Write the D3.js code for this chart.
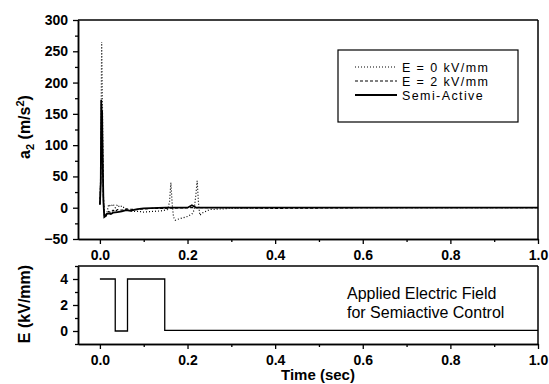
<!DOCTYPE html>
<html>
<head>
<meta charset="utf-8">
<script src="https://cdn.jsdelivr.net/npm/d3@7"></script>
<style>
  html, body { margin: 0; padding: 0; background: #fff; }
  svg { display: block; }
  text { font-family: "Liberation Sans", Arial, Helvetica, sans-serif; fill: #000; }
</style>
</head>
<body>
<svg id="chart" width="549" height="384"></svg>
<script>
// ---------- data ----------
const timeTicks = [0.0, 0.2, 0.4, 0.6, 0.8, 1.0];
const accTicks = [-50, 0, 50, 100, 150, 200, 250, 300];
const fieldTicks = [0, 2, 4];

const seriesNames = ["E = 0 kV/mm", "E = 2 kV/mm", "Semi-Active"];

// E = 0 kV/mm (dotted)
const tE0 = [0, 0.002, 0.004, 0.006, 0.008, 0.010, 0.013, 0.016, 0.02, 0.025, 0.03, 0.035, 0.04, 0.045, 0.05, 0.06, 0.07, 0.08, 0.09, 0.10, 0.12, 0.14, 0.155, 0.159, 0.162, 0.165, 0.168, 0.172, 0.18, 0.19, 0.20, 0.21, 0.215, 0.219, 0.222, 0.225, 0.228, 0.235, 0.25, 0.3, 0.4, 0.6, 0.8, 1.0];
const aE0 = [5, 60, 265, 150, 20, -10, -14, -8, 5, 2, 6, 0, 5, 1, 3, -3, -5, -6, -6, -7, -6, -5, -3, 10, 40, 6, -15, -20, -18, -16, -14, -10, -4, 20, 43, 8, -12, -8, -3, -1, 0, 0, 0, 0];

// E = 2 kV/mm (dashed)
const tE2 = [0, 0.002, 0.004, 0.006, 0.008, 0.010, 0.013, 0.016, 0.02, 0.025, 0.03, 0.035, 0.04, 0.05, 0.06, 0.08, 0.10, 0.12, 0.15, 0.2, 0.3, 0.4, 0.6, 0.8, 1.0];
const aE2 = [5, 50, 165, 110, 15, -12, -16, -10, -6, -8, -4, -6, -3, -4, -2, -3, -2, -1, -1, 0, 0, -1, 0, 0, 0];

// Semi-Active (solid)
const tSA = [0, 0.002, 0.003, 0.004, 0.005, 0.006, 0.008, 0.010, 0.012, 0.015, 0.02, 0.025, 0.03, 0.04, 0.05, 0.06, 0.07, 0.08, 0.09, 0.10, 0.15, 0.2, 0.21, 0.22, 0.3, 0.5, 0.7, 1.0];
const aSA = [5, 40, 172, 120, 155, 90, 10, -15, -14, -10, -9, -10, -8, -7, -6, -4, -5, -3, -2, -1, 0, 0, 4, 0, 0, 0, 0, 0];

// Applied electric field (kV/mm)
const tField = [0, 0.035, 0.035, 0.063, 0.063, 0.148, 0.148, 1.0];
const eField = [4, 4, 0, 0, 4, 4, 0.05, 0.05];

// ---------- layout ----------
const svg = d3.select("#chart");
const left = 78, right = 538;
const topY0 = 20, topY1 = 239;
const botY0 = 266, botY1 = 344;

const x = d3.scaleLinear().domain([-0.05, 1.0]).range([left, right]);
const yA = d3.scaleLinear().domain([-50, 300]).range([topY1, topY0]);
const yE = d3.scaleLinear().domain([-1, 5]).range([botY1, botY0]);

function styleAxis(g) {
  g.selectAll("path").attr("stroke", "#000").attr("stroke-width", 1.5);
  g.selectAll("line").attr("stroke", "#000").attr("stroke-width", 1.3);
  g.selectAll("text").style("font-size", "14px").style("font-weight", "bold");
}

// ---------- top panel ----------
const minorX = d3.range(0, 1.0001, 0.1).filter(v => Math.abs(Math.round(v * 10) % 2) === 1);

function drawXAxis(yPos) {
  const g = svg.append("g").attr("transform", `translate(0,${yPos})`);
  g.append("g").call(d3.axisBottom(x).tickValues(minorX).tickSize(3).tickSizeOuter(0).tickFormat(""))
    .call(styleAxis);
  g.append("g").call(d3.axisBottom(x).tickValues(timeTicks).tickSize(5).tickSizeOuter(0).tickPadding(6)
    .tickFormat(d3.format(".1f"))).call(styleAxis);
}

drawXAxis(topY1);
const minorA = d3.range(-25, 300, 50);
svg.append("g").attr("transform", `translate(${left},0)`)
  .call(d3.axisLeft(yA).tickValues(minorA).tickSize(3).tickSizeOuter(0).tickFormat(""))
  .call(styleAxis);
svg.append("g").attr("transform", `translate(${left},0)`)
  .call(d3.axisLeft(yA).tickValues(accTicks).tickSize(5).tickSizeOuter(0).tickPadding(5).tickFormat(d3.format("d")))
  .call(styleAxis);
// top & right frame
svg.append("line").attr("x1", left).attr("x2", right).attr("y1", topY0).attr("y2", topY0)
  .attr("stroke", "#000").attr("stroke-width", 1.5);
svg.append("line").attr("x1", right).attr("x2", right).attr("y1", topY0).attr("y2", topY1)
  .attr("stroke", "#000").attr("stroke-width", 1.5);

const lineA = d3.line().x(d => x(d[0])).y(d => yA(d[1]));
const zip = (a, b) => a.map((v, i) => [v, b[i]]);

svg.append("path").datum(zip(tE0, aE0)).attr("d", lineA)
  .attr("fill", "none").attr("stroke", "#000").attr("stroke-width", 1.2).attr("stroke-dasharray", "1,2");
svg.append("path").datum(zip(tE2, aE2)).attr("d", lineA)
  .attr("fill", "none").attr("stroke", "#000").attr("stroke-width", 1.2).attr("stroke-dasharray", "3,2");
svg.append("path").datum(zip(tSA, aSA)).attr("d", lineA)
  .attr("fill", "none").attr("stroke", "#000").attr("stroke-width", 1.8);

// y title top
const tt = svg.append("text").attr("transform", "translate(30,127) rotate(-90)")
  .attr("text-anchor", "middle").style("font-size", "16px").style("font-weight", "bold");
tt.append("tspan").text("a");
tt.append("tspan").attr("dy", 4).style("font-size", "11px").text("2");
tt.append("tspan").attr("dy", -4).text(" (m/s");
tt.append("tspan").attr("dy", -6).style("font-size", "11px").text("2");
tt.append("tspan").attr("dy", 6).text(")");

// legend
svg.append("rect").attr("x", 338).attr("y", 50).attr("width", 180).attr("height", 72)
  .attr("fill", "#fff").attr("stroke", "#000").attr("stroke-width", 1.2);
const legDash = ["1,2", "3,2", null];
const legW = [1.2, 1.2, 1.8];
seriesNames.forEach((name, i) => {
  const yy = 67 + i * 14;
  const l = svg.append("line").attr("x1", 355).attr("x2", 397).attr("y1", yy).attr("y2", yy)
    .attr("stroke", "#000").attr("stroke-width", legW[i]);
  if (legDash[i]) l.attr("stroke-dasharray", legDash[i]);
  svg.append("text").attr("x", 402).attr("y", yy + 4.5).style("font-size", "12.5px")
    .style("letter-spacing", "1.4px").text(name);
});

// ---------- bottom panel ----------
drawXAxis(botY1);
svg.append("g").attr("transform", `translate(${left},0)`)
  .call(d3.axisLeft(yE).tickValues([-1, 1, 3, 5]).tickSize(3).tickSizeOuter(0).tickFormat(""))
  .call(styleAxis);
svg.append("g").attr("transform", `translate(${left},0)`)
  .call(d3.axisLeft(yE).tickValues(fieldTicks).tickSize(5).tickSizeOuter(0).tickPadding(5).tickFormat(d3.format("d")))
  .call(styleAxis);
svg.append("line").attr("x1", left).attr("x2", right).attr("y1", botY0).attr("y2", botY0)
  .attr("stroke", "#000").attr("stroke-width", 1.5);
svg.append("line").attr("x1", right).attr("x2", right).attr("y1", botY0).attr("y2", botY1)
  .attr("stroke", "#000").attr("stroke-width", 1.5);

const lineE = d3.line().x(d => x(d[0])).y(d => yE(d[1]));
svg.append("path").datum(zip(tField, eField)).attr("d", lineE)
  .attr("fill", "none").attr("stroke", "#000").attr("stroke-width", 1.3);

svg.append("text").attr("x", 347).attr("y", 299).style("font-size", "16px").text("Applied Electric Field");
svg.append("text").attr("x", 347).attr("y", 318).style("font-size", "16px").text("for Semiactive Control");

svg.append("text").attr("transform", "translate(30,304) rotate(-90)")
  .attr("text-anchor", "middle").style("font-size", "16px").style("font-weight", "bold").text("E (kV/mm)");

svg.append("text").attr("x", 318).attr("y", 380).attr("text-anchor", "middle")
  .style("font-size", "15px").style("font-weight", "bold").text("Time (sec)");
</script>
</body>
</html>
